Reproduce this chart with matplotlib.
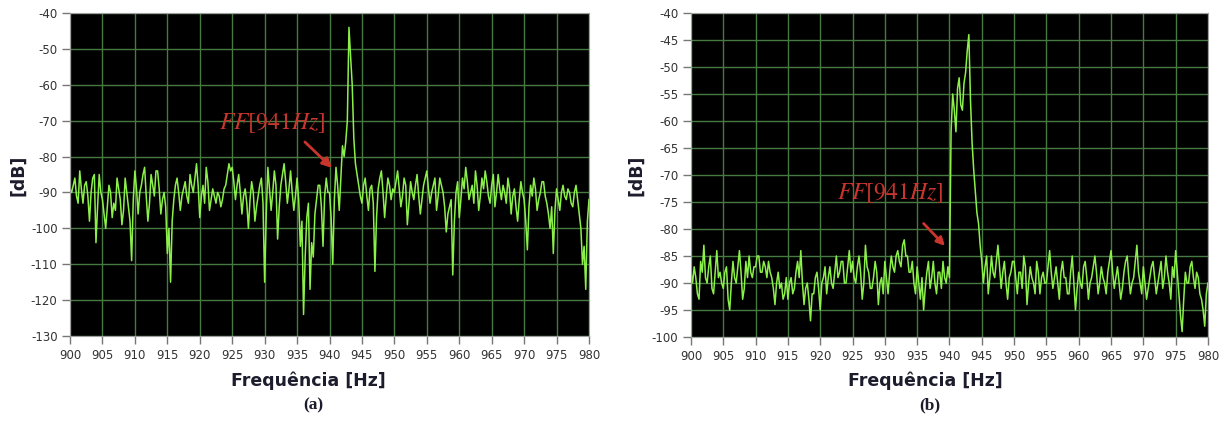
import numpy as np
import matplotlib
matplotlib.use("Agg")
import matplotlib.pyplot as plt

# frequency axis, 0.25 Hz steps from 900 to 980 Hz
freq = np.arange(900, 980.01, 0.25)

# spectrum (a), dB (one row = 5 Hz)
db_a = [
    -89, -90, -88, -86, -91, -93, -84, -89, -93, -88, -87, -91, -98, -90, -86, -85, -104, -94, -85, -90,
    -92, -96, -100, -94, -88, -90, -97, -93, -95, -86, -89, -92, -99, -95, -86, -90, -94, -98, -109, -92,
    -84, -89, -96, -90, -88, -85, -83, -91, -98, -93, -85, -88, -91, -84, -84, -89, -96, -92, -90, -94,
    -107, -100, -115, -98, -92, -88, -86, -90, -95, -91, -89, -87, -91, -93, -85, -88, -90, -86, -82, -88,
    -97, -91, -88, -93, -83, -87, -95, -92, -89, -91, -93, -90, -91, -94, -92, -89, -88, -85, -82, -84,
    -83, -87, -92, -88, -85, -90, -96, -91, -89, -93, -100, -92, -87, -90, -98, -94, -91, -88, -86, -93,
    -115, -96, -83, -89, -95, -90, -84, -88, -103, -94, -88, -85, -82, -87, -93, -89, -84, -90, -95, -91,
    -86, -92, -105, -98, -124, -108, -97, -93, -117, -104, -108, -96, -92, -88, -88, -94, -105, -91, -86, -90,
    -90, -97, -110, -92, -83, -88, -95, -86, -77, -80, -76, -70, -44, -52, -60, -75, -82, -85, -88, -91,
    -93, -88, -86, -91, -95, -89, -88, -93, -112, -97, -89, -86, -84, -90, -97, -91, -86, -88, -92, -89,
    -90, -87, -84, -89, -94, -91, -86, -88, -99, -93, -87, -90, -92, -88, -85, -91, -96, -92, -88, -86,
    -84, -89, -93, -90, -88, -86, -95, -91, -86, -88, -90, -94, -101, -96, -94, -92, -113, -98, -90, -87,
    -97, -92, -86, -89, -83, -87, -92, -90, -88, -93, -84, -88, -95, -91, -86, -89, -84, -87, -91, -93,
    -88, -85, -94, -90, -85, -89, -92, -88, -90, -93, -86, -89, -96, -91, -89, -94, -98, -92, -87, -90,
    -92, -98, -106, -94, -88, -91, -86, -89, -95, -92, -90, -87, -87, -91, -93, -96, -100, -94, -107, -95,
    -89, -92, -95, -90, -88, -91, -92, -89, -90, -93, -94, -90, -88, -92, -96, -100, -110, -105, -117, -98,
    -92,
]

# spectrum (b), dB
db_b = [
    -88, -90, -87, -89, -92, -93, -86, -88, -83, -89, -90, -87, -85, -91, -92, -88, -84, -89, -88, -90,
    -91, -88, -87, -93, -95, -90, -86, -89, -90, -87, -84, -88, -93, -91, -86, -89, -85, -88, -89, -87,
    -87, -85, -85, -88, -88, -86, -87, -89, -86, -88, -89, -91, -94, -90, -88, -91, -90, -93, -92, -89,
    -93, -90, -89, -92, -91, -88, -86, -89, -84, -90, -94, -91, -90, -93, -97, -92, -92, -89, -88, -91,
    -95, -90, -89, -87, -92, -89, -87, -90, -91, -88, -85, -89, -88, -86, -86, -90, -90, -87, -84, -88,
    -86, -89, -90, -87, -85, -88, -93, -90, -83, -87, -88, -91, -91, -89, -86, -88, -94, -90, -89, -92,
    -86, -89, -92, -88, -85, -87, -88, -85, -84, -86, -87, -83, -82, -85, -85, -88, -88, -86, -90, -92,
    -87, -90, -93, -89, -95, -91, -88, -86, -91, -89, -86, -90, -92, -88, -88, -91, -86, -89, -90, -87,
    -89, -62, -55, -58, -62, -54, -52, -57, -58, -53, -51, -47, -44, -56, -64, -69, -73, -77, -79, -83,
    -86, -90, -87, -85, -92, -89, -85, -88, -89, -86, -83, -87, -91, -88, -86, -90, -93, -89, -88, -86,
    -86, -89, -92, -88, -88, -91, -85, -87, -94, -90, -87, -89, -90, -92, -86, -88, -92, -89, -88, -90,
    -90, -87, -84, -88, -91, -89, -87, -90, -93, -88, -86, -89, -89, -92, -92, -88, -85, -90, -95, -91,
    -88, -90, -91, -87, -86, -89, -93, -90, -89, -87, -85, -88, -92, -90, -87, -89, -90, -92, -88, -86,
    -84, -88, -91, -89, -87, -90, -93, -91, -88, -86, -85, -89, -92, -90, -89, -86, -83, -88, -90, -92,
    -87, -90, -93, -91, -89, -87, -86, -89, -92, -90, -88, -86, -91, -89, -85, -88, -90, -93, -87, -89,
    -84, -88, -92, -96, -99, -93, -88, -90, -90, -87, -86, -89, -91, -88, -89, -92, -93, -95, -98, -92,
    -90,
]
assert len(db_a) == len(freq) and len(db_b) == len(freq)

xticks = np.arange(900, 985, 5)
yticks_a = np.arange(-130, -35, 10)
yticks_b = np.arange(-100, -35, 5)

line_col = '#8cf04a'
grid_col = '#467a42'
red = '#c9352d'
lab_col = '#1c1c2c'

plt.rcParams['mathtext.fontset'] = 'stix'
plt.rcParams['axes.unicode_minus'] = False

fig = plt.figure(figsize=(12.24, 4.21), dpi=100)
ax_a = fig.add_axes([0.0572, 0.2019, 0.4240, 0.7672])
ax_b = fig.add_axes([0.5645, 0.1995, 0.4224, 0.7696])

panels = [
    (ax_a, db_a, yticks_a, (-130, -40)),
    (ax_b, db_b, yticks_b, (-100, -40)),
]
for ax, db, yt, ylim in panels:
    ax.set_facecolor('black')
    ax.plot(freq, db, color=line_col, lw=1.1)
    ax.set_xlim(900, 980)
    ax.set_ylim(*ylim)
    ax.set_xticks(xticks)
    ax.set_yticks(yt)
    ax.grid(True, color=grid_col, lw=1.0)
    ax.set_axisbelow(True)
    ax.tick_params(colors='#777777', labelcolor='#333333', labelsize=8.5,
                   length=6, width=1, pad=3)
    for sp in ax.spines.values():
        sp.set_color('#a0a0a0')

# annotations
ax_a.text(931.2, -70.6, r'$FF$[941$Hz$]', color=red, fontsize=17,
          family='STIXGeneral', ha='center', va='center')
ax_a.annotate('', xy=(940.7, -83.7), xytext=(935.9, -75.4),
              arrowprops=dict(arrowstyle='-|>', color=red, lw=2, mutation_scale=14))
ax_b.text(930.8, -73.3, r'$FF$[941$Hz$]', color=red, fontsize=17,
          family='STIXGeneral', ha='center', va='center')
ax_b.annotate('', xy=(939.6, -83.5), xytext=(935.7, -78.6),
              arrowprops=dict(arrowstyle='-|>', color=red, lw=2, mutation_scale=12))

# axis labels and captions
for xc, cap in [(308, '(a)'), (925, '(b)')]:
    fig.text(xc / 1224, 1 - 381 / 421, 'Frequência [Hz]', fontsize=12.5,
             fontweight='bold', color=lab_col, ha='center', va='center')
    fig.text((xc + 5) / 1224, 1 - 405 / 421, cap, fontsize=12.5,
             fontweight='bold', family='Liberation Serif', color=lab_col,
             ha='center', va='center')
for xc in [18, 636]:
    fig.text(xc / 1224, 1 - 175 / 421, '[dB]', fontsize=12.5, fontweight='bold',
             color=lab_col, rotation=90, ha='center', va='center')

fig.savefig('out.png', dpi=100, facecolor='white')
